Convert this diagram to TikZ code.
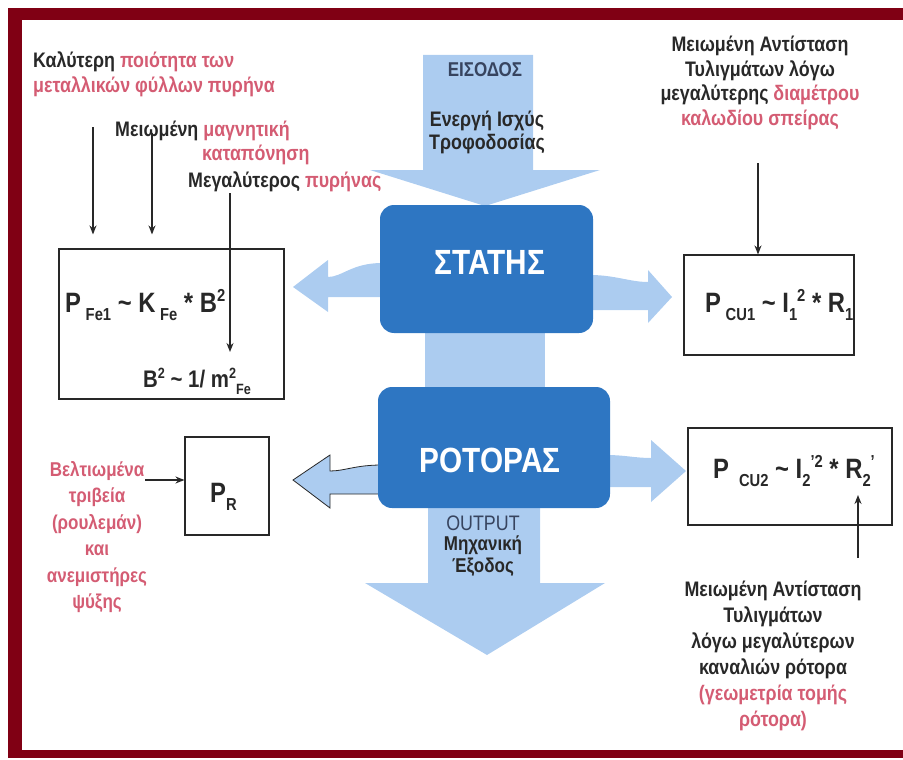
\documentclass[tikz,border=0pt]{standalone}
\usepackage{fontspec}
\setmainfont{Liberation Sans}[FakeStretch=0.85]
\usepackage{tikz}
\usetikzlibrary{arrows.meta, positioning, calc}

\definecolor{framered}{RGB}{128,0,20}
\definecolor{pinktext}{RGB}{212,92,115}
\definecolor{darktext}{RGB}{40,40,40}
\definecolor{flowblue}{RGB}{172,204,240}
\definecolor{coreblue}{RGB}{46,118,194}
\definecolor{slatetext}{RGB}{55,68,95}

\newcommand{\pinkt}[1]{\textcolor{pinktext}{#1}}
\newcommand{\lowsub}[1]{\raisebox{-0.3em}{\scalebox{0.62}{#1}}}
\newcommand{\highsup}[1]{\raisebox{0.36em}{\scalebox{0.62}{#1}}}

\begin{document}
\begin{tikzpicture}[x=1pt, y=-1pt,
    txt/.style={font=\fontsize{21}{25}\selectfont\bfseries, text=darktext, inner sep=0pt},
    pinktxt/.style={txt, text=pinktext},
    eqbox/.style={draw=darktext, line width=1.1pt, inner sep=0pt},
    eqtxt/.style={font=\fontsize{28}{30}\selectfont\bfseries, text=darktext, inner sep=0pt},
    core/.style={fill=coreblue, rounded corners=14pt, inner sep=0pt},
    coretxt/.style={font=\fontsize{35}{35}\selectfont\bfseries, text=white, inner sep=0pt},
    flowtxt/.style={font=\fontsize{21}{23}\selectfont\bfseries, text=darktext, inner sep=0pt, align=center},
    arrow/.style={-{Stealth[length=9pt, width=7pt]}, line width=1.5pt, draw=darktext}
  ]
    \useasboundingbox (0,0) rectangle (903,760);

    % Frame
    \fill[framered] (8,8) rectangle (903,20);
    \fill[framered] (8,8) rectangle (22,758);
    \fill[framered] (8,750) rectangle (903,758);

    % Main power flow
    \fill[flowblue] (423,55) -- (533,55) -- (533,170) -- (600,170) -- (485,206) -- (370,170) -- (423,170) -- cycle;
    \fill[flowblue] (425,320) rectangle (545,400);
    \fill[flowblue] (428,500) -- (540,500) -- (540,583) -- (605,583) -- (487,655) -- (365,583) -- (428,583) -- cycle;

    % Loss branches
    \fill[flowblue] (382,263) .. controls (352,263) and (342,277) .. (328,277) -- (328,260) -- (293,287) -- (328,312) -- (328,297) -- (382,297) -- cycle;
    \fill[flowblue] (590,275) .. controls (615,275) and (630,282) .. (648,282) -- (648,270) -- (672,297) -- (648,323) -- (648,310) -- (590,310) -- cycle;
    \fill[flowblue] (606,455) .. controls (625,455) and (635,458) .. (651,458) -- (651,440) -- (686,471) -- (651,502) -- (651,487) -- (606,487) -- cycle;
    \draw[fill=flowblue, draw=darktext, line width=0.8pt] (382,465) .. controls (355,465) and (345,471) .. (330,471) -- (330,455) -- (293,480) -- (330,508) -- (330,494) .. controls (345,494) and (360,494) .. (382,494);

    % Stator and rotor
    \node[core, minimum width=213pt, minimum height=128pt] (stator) at (486.5,269) {};
    \node[core, minimum width=232pt, minimum height=121pt] (rotor) at (494,447.5) {};
    \node[coretxt] (statorlbl) at (490,262) {ΣΤΑΤΗΣ};
    \node[coretxt] (rotorlbl) at (490,460) {ΡΟΤΟΡΑΣ};

    % Input and output
    \node[font=\fontsize{20}{20}\selectfont\bfseries, text=slatetext, anchor=base, inner sep=0pt] (inlbl) at (485,77) {ΕΙΣΟΔΟΣ};
    \node[flowtxt, anchor=north] (inpower) at (487,111) {Ενεργή Ισχύς\\Τροφοδοσίας};
    \node[font=\fontsize{21}{21}\selectfont, text=slatetext, anchor=base, inner sep=0pt] (outlbl) at (483,530) {OUTPUT};
    \node[flowtxt, font=\fontsize{20}{22}\selectfont\bfseries, anchor=north] (outpower) at (483,536) {Μηχανική\\Έξοδος};

    % Loss boxes
    \node[eqbox, minimum width=225pt, minimum height=150pt] (febox) at (171.5,324) {};
    \node[eqtxt, anchor=base west] (feloss) at (65,312) {P\,\lowsub{Fe1} \textasciitilde{} K\,\lowsub{Fe} * B\highsup{2}};
    \node[eqtxt, font=\fontsize{24}{24}\selectfont\bfseries, anchor=base west] (fescale) at (143,387) {B\highsup{2} \textasciitilde{} 1/ m\highsup{2}\lowsub{Fe}};

    \node[eqbox, minimum width=84pt, minimum height=98pt] (prbox) at (227,486) {};
    \node[eqtxt, anchor=base west] (prloss) at (210,502) {P\lowsub{R}};

    \node[eqbox, minimum width=170pt, minimum height=100pt] (cu1box) at (769,305) {};
    \node[eqtxt, anchor=base west] (cu1loss) at (705,312) {P\,\lowsub{CU1} \textasciitilde{} I\lowsub{1}\highsup{2} * R\lowsub{1}};

    \node[eqbox, minimum width=204pt, minimum height=97pt] (cu2box) at (790,476.5) {};
    \node[eqtxt, anchor=base west] (cu2loss) at (713,478) {P\hspace{10pt}\lowsub{CU2} \textasciitilde{} I\lowsub{2}\highsup{'2} * R\lowsub{2}\highsup{'}};

    % Improvements
    \node[txt, anchor=north west, align=left] (quality) at (33,52) {Καλύτερη \pinkt{ποιότητα των}\\\pinkt{μεταλλικών φύλλων πυρήνα}};
    \node[txt, anchor=base west] (stress) at (115,136) {Μειωμένη \pinkt{μαγνητική}};
    \node[pinktxt, anchor=base west] (stress2) at (202,160) {καταπόνηση};
    \node[txt, anchor=base west] (bigcore) at (188,187) {Μεγαλύτερος \pinkt{πυρήνας}};
    \node[txt, font=\fontsize{21}{24.5}\selectfont\bfseries, anchor=north, align=center] (wind1) at (760,36) {Μειωμένη Αντίσταση\\Τυλιγμάτων λόγω\\μεγαλύτερης \pinkt{διαμέτρου}\\\pinkt{καλωδίου σπείρας}};
    \node[pinktxt, font=\fontsize{20}{26.5}\selectfont\bfseries, anchor=north, align=center] (bearings) at (97,461) {Βελτιωμένα\\τριβεία\\(ρουλεμάν)\\και\\ανεμιστήρες\\ψύξης};
    \node[txt, font=\fontsize{21}{26}\selectfont\bfseries, anchor=north, align=center] (wind2) at (773,581) {Μειωμένη Αντίσταση\\Τυλιγμάτων\\λόγω μεγαλύτερων\\καναλιών ρότορα\\\pinkt{(γεωμετρία τομής}\\\pinkt{ρότορα)}};

    % Arrows
    \coordinate (q1) at (93,127);
    \coordinate (q2) at (152,133);
    \coordinate (q3) at (230,193);
    \coordinate (q3end) at (230,352);
    \coordinate (w1) at (758,163);
    \coordinate (w2) at (858,558);
    \coordinate (w2end) at (858,495);
    \coordinate (b1) at (145,480);
    \draw[arrow, shorten >=14pt] (q1) -- (q1 |- febox.north);
    \draw[arrow, shorten >=14pt] (q2) -- (q2 |- febox.north);
    \draw[arrow] (q3) -- (q3end);
    \draw[arrow] (w1) -- (w1 |- cu1box.north);
    \draw[arrow] (w2) -- (w2end);
    \draw[arrow, line width=2.2pt] (b1) -- (b1 -| prbox.west);

\end{tikzpicture}
\end{document}
